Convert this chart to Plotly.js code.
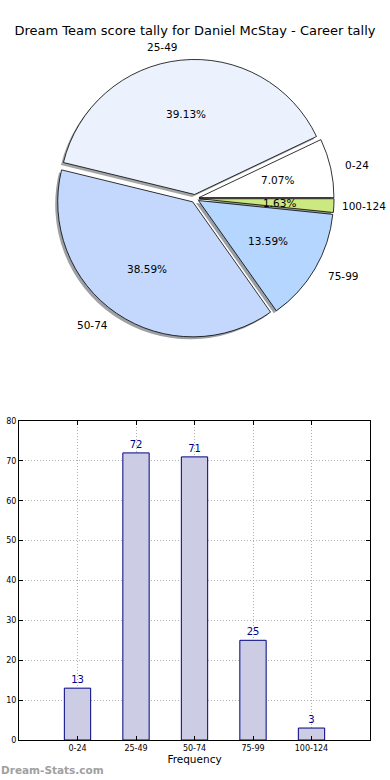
<!DOCTYPE html>
<html><head><meta charset="utf-8">
<script src="https://cdn.plot.ly/plotly-3.0.1.min.js"></script>
<style>html,body{margin:0;padding:0;background:#fff}#chart{width:390px;height:780px}</style>
</head><body><div id="chart"></div>
<script>
const categories = ['0-24','25-49','50-74','75-99','100-124'];
const counts = [13,72,71,25,3];
const sliceColors = ['#ffffff','#ebf2fe','#c4d8fe','#b5d6fe','#cce880'];
const titleText = 'Dream Team score tally for Daniel McStay - Career tally';
const yTicks = [0,10,20,30,40,50,60,70,80];

const W = 390, H = 780;
const px2x = v => v / W, px2y = v => 1 - v / H;
const FONT = 'DejaVu Sans';

// pie geometry (pixels)
const pieCx = 195, pieCy = 198.5, pieR = 135, pull = 0.03;
const boxH = 2 * pieR * (1 + pull);
const pieDomY = [px2y(pieCy + boxH / 2), px2y(pieCy - boxH / 2)];
const shOff = 2.5;

const total = counts.reduce((a, b) => a + b, 0);
// plotly counterclockwise pies place the first slice clockwise of the rotation point;
// shift so the first slice starts at 3 o'clock like matplotlib
const rotation = 90 - 360 * counts[0] / total;

function shadowOf(hex) {
  const r = parseInt(hex.slice(1,3),16), g = parseInt(hex.slice(3,5),16), b = parseInt(hex.slice(5,7),16);
  return `rgba(${Math.round(r*0.3)},${Math.round(g*0.3)},${Math.round(b*0.3)},0.5)`;
}

const pulls = counts.map(() => pull);

const shadowPie = {
  type: 'pie', labels: categories, values: counts, sort: false,
  direction: 'counterclockwise', rotation: rotation, pull: pulls,
  marker: {colors: sliceColors.map(shadowOf), line: {width: 0}},
  textinfo: 'none', hoverinfo: 'none',
  domain: {x: [0, 1 - 2 * shOff / W], y: [pieDomY[0] - shOff / H, pieDomY[1] - shOff / H]}
};
const mainPie = {
  type: 'pie', labels: categories, values: counts, sort: false,
  direction: 'counterclockwise', rotation: rotation, pull: pulls,
  marker: {colors: sliceColors, line: {color: '#000000', width: 0.8}},
  textinfo: 'none', hoverinfo: 'none',
  domain: {x: [0, 1], y: pieDomY}
};

const bars = {
  type: 'bar', x: categories, y: counts, xaxis: 'x', yaxis: 'y',
  width: 0.45,
  marker: {color: '#ccccE4', line: {color: '#000080', width: 1}},
  text: counts.map(String), textposition: 'outside', cliponaxis: false,
  textfont: {family: FONT, size: 10, color: '#00008b'},
  hoverinfo: 'none'
};

const annotations = [];
const labelSize = 10.5;
let acc = 0;
counts.forEach((c, i) => {
  const frac = c / total;
  const mid = (acc + frac / 2) * 2 * Math.PI;
  acc += frac;
  const co = Math.cos(mid), si = Math.sin(mid);
  const ox = pieCx + pull * pieR * co, oy = pieCy - pull * pieR * si;
  annotations.push({
    xref: 'paper', yref: 'paper', showarrow: false,
    x: px2x(ox + 0.6 * pieR * co), y: px2y(oy - 0.6 * pieR * si),
    xanchor: 'center', yanchor: 'middle', borderpad: 0,
    text: (frac * 100).toFixed(2) + '%',
    font: {family: FONT, size: labelSize, color: '#000'}
  });
  let lx = ox + 1.1 * pieR * co;
  let anchor = co > 0 ? 'left' : 'right';
  const estW = categories[i].length * 0.62 * labelSize;
  if (anchor === 'left' && lx + estW > W - 3) { lx = W - 3; anchor = 'right'; }
  annotations.push({
    xref: 'paper', yref: 'paper', showarrow: false,
    x: px2x(lx), y: px2y(oy - 1.1 * pieR * si),
    xanchor: anchor, yanchor: 'middle', borderpad: 0,
    text: categories[i],
    font: {family: FONT, size: labelSize, color: '#000'}
  });
});
annotations.push({
  xref: 'paper', yref: 'paper', showarrow: false,
  x: 0, y: px2y(770), xanchor: 'left', yanchor: 'middle', borderpad: 0,
  text: '<b>Dream-Stats.com</b>',
  font: {family: FONT, size: 10.5, color: '#a0a0a0'}
});

const gridStyle = {showgrid: true, gridcolor: '#b0b0b0', griddash: '1px,2px', gridwidth: 1};

const layout = {
  width: W, height: H,
  margin: {l: 0, r: 0, t: 0, b: 0, pad: 0},
  paper_bgcolor: '#ffffff', plot_bgcolor: '#ffffff',
  showlegend: false,
  font: {family: FONT, color: '#000'},
  title: {text: titleText, x: 0.5, xanchor: 'center', xref: 'paper',
          y: px2y(30), yref: 'container', yanchor: 'middle',
          font: {family: FONT, size: 13, color: '#000'}},
  xaxis: Object.assign({
    domain: [19 / W, 370 / W], range: [-1, 5], type: 'category',
    showline: true, linecolor: '#000', linewidth: 1, mirror: 'ticks',
    ticks: 'inside', ticklen: 4, tickcolor: '#000', tickwidth: 1,
    zeroline: false, tickfont: {family: FONT, size: 8, color: '#000'},
    title: {text: 'Frequency', font: {family: FONT, size: 10.5, color: '#000'}, standoff: 4},
    fixedrange: true
  }, gridStyle),
  yaxis: Object.assign({
    domain: [px2y(740), px2y(421)], range: [0, 80],
    tickvals: yTicks, ticktext: yTicks.map(String),
    showline: true, linecolor: '#000', linewidth: 1, mirror: 'ticks',
    ticks: 'inside', ticklen: 4, tickcolor: '#000', tickwidth: 1,
    zeroline: false, tickfont: {family: FONT, size: 8, color: '#000'},
    fixedrange: true
  }, gridStyle),
  annotations: annotations
};

Plotly.newPlot('chart', [shadowPie, mainPie, bars], layout, {displayModeBar: false, staticPlot: true});
</script>
</body></html>
